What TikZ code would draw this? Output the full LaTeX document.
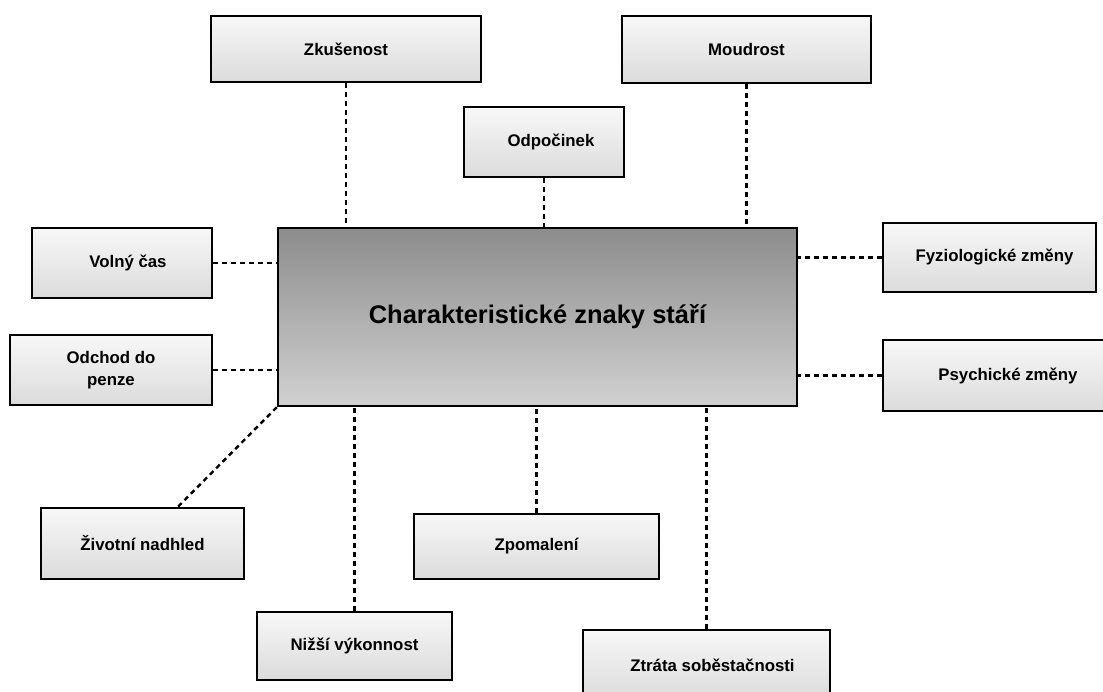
\documentclass[tikz,border=0pt]{standalone}
\usepackage{fontspec}
\setmainfont{Liberation Sans}
\usetikzlibrary{arrows.meta}

\tikzset{
  sign/.style={draw,line width=2.4pt,top color=gray!6,bottom color=gray!28,
    font=\fontsize{16.8}{22}\selectfont\bfseries,align=center,inner sep=2pt},
  core/.style={draw,line width=2.4pt,top color=black!45,bottom color=black!18,
    font=\fontsize{25.5}{30}\selectfont\bfseries,minimum width=519pt,minimum height=178pt},
  link/.style={line width=2.4pt,dash pattern=on 5pt off 4pt}
}

\begin{document}
\begin{tikzpicture}[x=1pt,y=-1pt]
\useasboundingbox (0,0) rectangle (1103,691);
\node[core] (c) at (537.5,317) {Charakteristické znaky stáří};
\foreach \nm/\x/\y/\w/\h/\txt in {
  zk/346/49/270/66/{Zkušenost},
  mo/746.5/49.5/249/67/{Moudrost},
  od/544/142/160/70/{\hspace*{14pt}Odpočinek},
  vc/122/263/180/70/{\hspace*{12pt}Volný čas},
  fz/989.5/257.5/213/69/{\hspace*{10pt}Fyziologické změny},
  op/111/370/202/70/{Odchod do\\penze},
  ps/1008/375.5/250/71/{Psychické změny},
  zn/142.5/543.5/203/71/{Životní nadhled},
  zp/536.5/546.5/245/65/{Zpomalení},
  nv/354.5/646/195/68/{Nižší výkonnost},
  zt/706.5/665/247/70/{\hspace*{12pt}Ztráta soběstačnosti}%
}{
  \node[sign,minimum width=\w pt,minimum height=\h pt] (\nm) at (\x,\y) {\txt};
}
% spojnice ke stredu
\foreach \nm in {zk,mo,od}
  \draw[link] (\nm.south) -- (\nm.south |- c.north);
\foreach \nm in {zp,nv,zt}
  \draw[link] (\nm.north) -- (\nm.north |- c.south);
\foreach \nm in {vc,op}
  \draw[link] (\nm.east) -- (\nm.east -| c.west);
\draw[link] (fz.west) -- (fz.west -| c.east);
\draw[link] (ps.west) -- (ps.west -| c.east);
\draw[link] (c.south west) -- (zn.46);
\end{tikzpicture}
\end{document}
